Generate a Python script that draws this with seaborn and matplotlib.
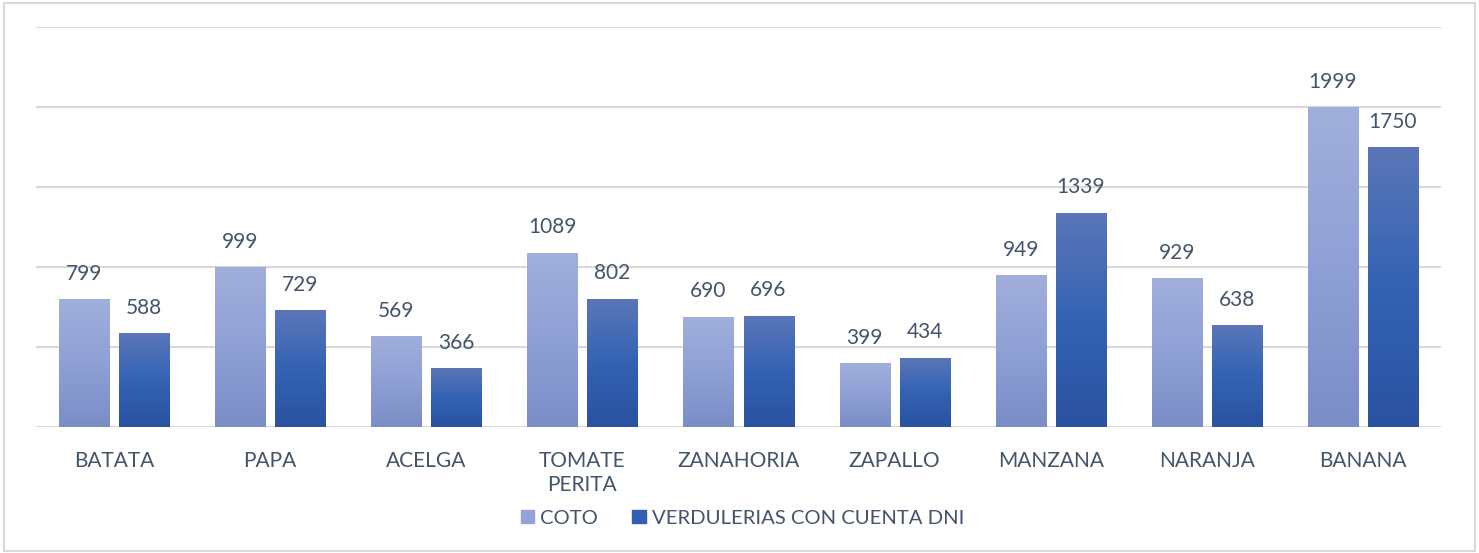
import numpy as np
import pandas as pd
import matplotlib
matplotlib.use('Agg')
import matplotlib.pyplot as plt
import seaborn as sns
from matplotlib.colors import LinearSegmentedColormap
from matplotlib.patches import Rectangle, Patch

productos = ['BATATA', 'PAPA', 'ACELGA', 'TOMATE\nPERITA', 'ZANAHORIA',
             'ZAPALLO', 'MANZANA', 'NARANJA', 'BANANA']
coto = [799, 999, 569, 1089, 690, 399, 949, 929, 1999]
verdulerias = [588, 729, 366, 802, 696, 434, 1339, 638, 1750]
series = ['COTO', 'VERDULERIAS CON CUENTA DNI']

df = pd.DataFrame({
    'producto': productos * 2,
    'precio': coto + verdulerias,
    'serie': [series[0]] * len(productos) + [series[1]] * len(productos),
})

txt = '#44546A'
grid = '#D9D9D9'
sns.set_theme(style='white')
plt.rcParams['font.family'] = ['Lato', 'DejaVu Sans']

fig = plt.figure(figsize=(14.79, 5.53), dpi=100)
ax = fig.add_axes([36 / 1479, 126 / 553, 1405 / 1479, 400 / 553])

pal = {series[0]: '#8FA0D6', series[1]: '#3562B4'}
sns.barplot(data=df, x='producto', y='precio', hue='serie', palette=pal,
            width=0.77, gap=0.167, ax=ax, legend=False)

# gradientes por barra (claro arriba, oscuro abajo)
grads = [LinearSegmentedColormap.from_list('c', ['#7A8DC5', '#8FA0D6', '#A1AFDB']),
         LinearSegmentedColormap.from_list('v', ['#2A52A0', '#3363B4', '#5B76B8'])]
g = np.linspace(0, 1, 256).reshape(-1, 1)
for i, cont in enumerate(ax.containers):
    for bar in cont:
        x0, y0 = bar.get_x(), bar.get_y()
        w, h = bar.get_width(), bar.get_height()
        im = ax.imshow(g, cmap=grads[i], aspect='auto', origin='lower',
                       extent=[x0, x0 + w, y0, y0 + h], zorder=bar.get_zorder())
        im.set_clip_path(bar)
        bar.set_alpha(0)
    ax.bar_label(cont, padding=11, fontsize=15, color=txt)

ax.set_xlim(-0.5, len(productos) - 0.5)
ax.set_ylim(0, 2500)
ax.set_yticks([0, 500, 1000, 1500, 2000, 2500])
ax.yaxis.grid(True, color=grid, linewidth=1.5)
ax.set_axisbelow(True)
ax.tick_params(axis='y', left=False, labelleft=False)
ax.tick_params(axis='x', bottom=False, pad=11, labelsize=15, labelcolor=txt)
for lbl in ax.get_xticklabels():
    lbl.set_linespacing(1.25)
for s in ax.spines.values():
    s.set_visible(False)
ax.set_xlabel('')
ax.set_ylabel('')

handles = [Patch(color='#93A3D7'), Patch(color='#3160B2')]
fig.legend(handles, series, loc='center', bbox_to_anchor=(0.502, 0.063),
           ncol=2, frameon=False, fontsize=14.6, labelcolor=txt,
           handlelength=0.65, handleheight=0.65, handletextpad=0.3,
           columnspacing=1.7)

fig.patches.append(Rectangle((4 / 1479, 2 / 553), 1471 / 1479, 548 / 553,
                             transform=fig.transFigure, fill=False,
                             edgecolor=grid, linewidth=1.5))

fig.savefig('out.png', dpi=100)
